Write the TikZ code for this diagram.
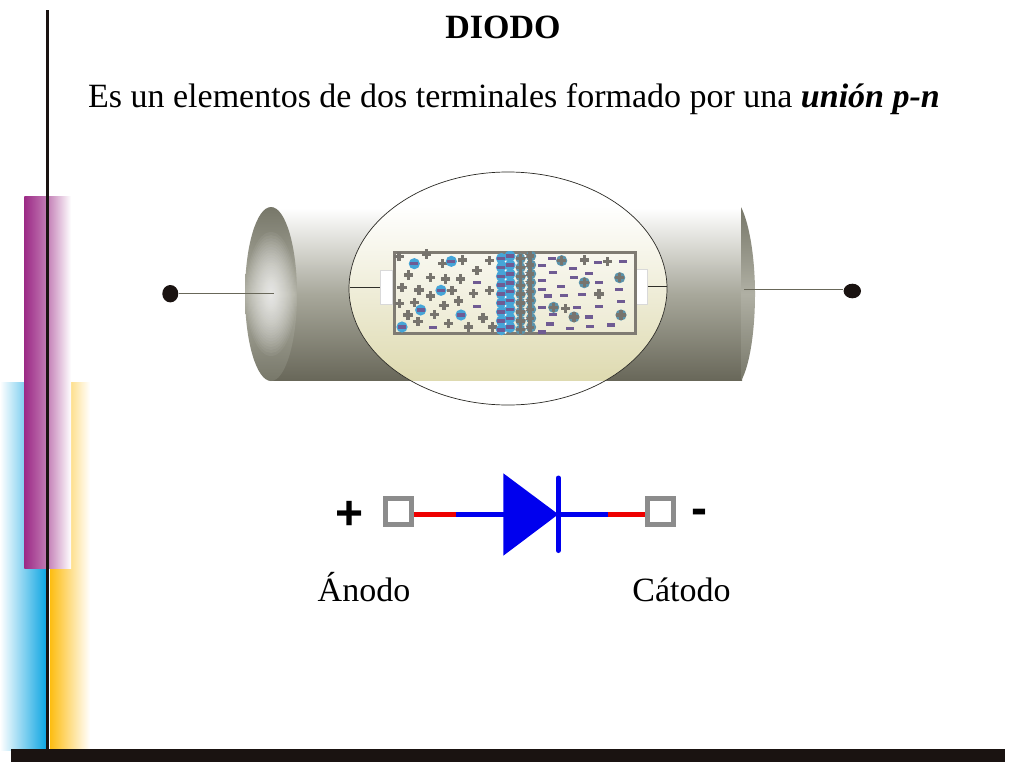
\documentclass[tikz,border=0pt]{standalone}
\usepackage{fontspec}
\setmainfont{Liberation Serif}
\newfontfamily\symfont{Liberation Sans}
\usetikzlibrary{shapes.geometric}
\definecolor{barblack}{HTML}{1A1311}
\definecolor{metald}{HTML}{686759}
\definecolor{metalm}{HTML}{A8A89B}
\definecolor{capd}{HTML}{777769}
\definecolor{capm}{HTML}{B0B0A4}
\definecolor{glass}{HTML}{DEDAB0}
\definecolor{frameg}{HTML}{7F7B73}
\definecolor{plusg}{HTML}{77746E}
\definecolor{minusv}{HTML}{6F5B93}
\definecolor{eblue}{HTML}{45A5D8}
\definecolor{ionteal}{HTML}{5B93AB}
\definecolor{cpurple}{HTML}{9C2A86}
\definecolor{cblue}{HTML}{0FA6E2}
\definecolor{cyellow}{HTML}{FDBD12}
\definecolor{termg}{HTML}{8C8C8C}
\definecolor{wblue}{HTML}{0000EE}
\definecolor{wred}{HTML}{EE0000}
\tikzset{
  txt/.style={font=\fontsize{34}{40}\selectfont,text=black,inner sep=0pt,anchor=base},
  sign/.style={font=\symfont\bfseries\fontsize{48}{48}\selectfont,text=black,inner sep=0pt},
  term/.style={draw=termg,line width=5pt,fill=white,minimum size=26pt,inner sep=0pt,rectangle},
  dot/.style={ellipse,fill=barblack,inner sep=0pt},
  tab/.style={draw=black!15,line width=.5pt,fill=white},
  leadw/.style={draw=black!55!metald,line width=.8pt},
  wireb/.style={wblue,line width=5pt},
  wirer/.style={wred,line width=5pt},
}
\newcommand{\pl}[2]{\fill[plusg] (#1-4.6,#2-1.7) rectangle (#1+4.6,#2+1.7); \fill[plusg] (#1-1.7,#2-4.6) rectangle (#1+1.7,#2+4.6);}
\newcommand{\mi}[2]{\fill[minusv] (#1-4,#2-1.8) rectangle (#1+4,#2+1.8);}
\newcommand{\el}[2]{\fill[eblue] (#1,#2) circle (5.6); \mi{#1}{#2}}
\newcommand{\io}[2]{\fill[ionteal] (#1,#2) circle (5.6); \pl{#1}{#2}}
\begin{document}
\begin{tikzpicture}[x=1pt,y=-1pt]
\useasboundingbox (0,0) rectangle (1024,768);
\fill[white] (0,0) rectangle (1024,768);
% side bands
\shade[left color=white,right color=cblue] (0,382) rectangle (46,750);
\shade[left color=cyellow,right color=white] (50,382) rectangle (90,750);
\shade[left color=cpurple,right color=white,middle color=cpurple!60!white] (24.3,196) rectangle (71,568);
\fill[barblack] (46,10) rectangle (49.3,750);
\fill[barblack] (10.7,749.3) rectangle (1005,761.7);
% title
\node[txt,font=\bfseries\fontsize{34}{40}\selectfont] (title) at (503,39) {DIODO};
\node[txt] (sub) at (514,107) {Es un elementos de dos terminales formado por una \textbf{\textit{unión p-n}}};
% cylinder
\shade[top color=white,bottom color=metald,middle color=metalm] (271,208) rectangle (742,380.5);
\shade[top color=capd,bottom color=capd,middle color=capm] (741,207) .. controls (750,225) and (755,260) .. (755,294) .. controls (755,330) and (750,365) .. (741,381) -- cycle;
\shade[top color=capd,bottom color=capd,middle color=capm] (271,294) ellipse (26 and 87);
\begin{scope}
\clip (271,294) ellipse (26 and 87);
\foreach \i in {1,...,30}{
  \pgfmathsetmacro\gr{(\i/30)^1.5}
  \fill[white,opacity=.055] (271,294) ellipse ({\gr*25} and {\gr*62});
}
\end{scope}
% window
\fill[white] (508,288.5) ellipse (159 and 116.5);
\begin{scope}
\clip (508,288.5) ellipse (159 and 116.5);
\shade[top color=white,bottom color=glass] (340,205) rectangle (680,380.5);
\end{scope}
\draw[black!60!metald,line width=.7pt] (508,288.5) ellipse (159 and 116.5);
% leads
\coordinate (wl) at (349.5,287);
\coordinate (wr) at (667,286.5);
\node[tab,minimum width=11.6pt,minimum height=34pt,inner sep=0pt] (tl) at (386.5,287.3) {};
\node[tab,minimum width=12pt,minimum height=34.6pt,inner sep=0pt] (tr) at (641.7,287) {};
\draw[leadw] (wl) -- (tl.west|-wl);
\draw[leadw] (tr.east|-wr) -- (wr);
\node[dot,minimum width=16pt,minimum height=17.4pt] (dl) at (170.3,293.7) {};
\node[dot,minimum width=17.4pt,minimum height=14.6pt] (dr) at (852.3,291) {};
\coordinate (cl) at (274,293.5);
\coordinate (cr) at (744,289);
\draw[metald,line width=.9pt] (dl.east|-cl) -- (cl);
\draw[metald,line width=.9pt] (cr) -- (dr.west|-cr);
% crystal
\fill[white,opacity=.25] (392.7,251) rectangle (636.7,335);
\draw[frameg,line width=3pt] (394,252.3) rectangle (635.5,333.7);
% charges
\foreach \a/\b in {57/50,140/42,187/70,248/60,328/62,85/105,151/113,197/117,242/117,291/92,66/143,117/150,151/168,216/152,280/160,328/152,236/183,58/190,103/188,192/196,84/225,163/224,114/245,205/250,309/234,266/261,337/261,613/60,683/65,657/162,556/205}{\pgfmathsetmacro\xx{380+\a/3}\pgfmathsetmacro\yy{240+\b/3}\pl{\xx}{\yy}}
\foreach \a/\b in {103/71,214/64,183/151,122/210,243/225,66/261}{\pgfmathsetmacro\xx{380+\a/3}\pgfmathsetmacro\yy{240+\b/3}\el{\xx}{\yy}}
\foreach \a/\b in {291/128,291/200,160/263,516/56,486/76,580/85,655/67,729/64,519/98,627/100,581/112,487/121,658/128,487/149,543/139,716/149,505/168,552/167,605/164,722/184,486/203,590/203,656/200,519/223,627/231,510/252,693/255,629/260,571/266,487/276}{\pgfmathsetmacro\xx{380+\a/3}\pgfmathsetmacro\yy{240+\b/3}\mi{\xx}{\yy}}
\foreach \a/\b in {545/62,613/128,719/113,521/202,582/231,723/225}{\pgfmathsetmacro\xx{380+\a/3}\pgfmathsetmacro\yy{240+\b/3}\io{\xx}{\yy}}
% depletion
\begin{scope}
\clip (392.7,251) rectangle (636.7,336);
\foreach \r in {0,...,8}{
  \pgfmathsetmacro\ya{258.5+\r*8.9}
  \pgfmathsetmacro\yb{256+\r*8.9}
  \fill[eblue] (501.5,\ya) circle (5.6);
  \fill[eblue] (510,\yb) circle (5.6);
  \fill[ionteal] (520.6,\ya) circle (5.2);
  \fill[ionteal] (531,\yb) circle (5.2);
}
\foreach \r in {0,...,8}{
  \pgfmathsetmacro\ya{258.5+\r*8.9}
  \pgfmathsetmacro\yb{256+\r*8.9}
  \pl{520.6}{\ya}
  \pl{529.8}{\yb}
  \mi{500.7}{\ya}
  \mi{510.3}{\yb}
}
\foreach \r in {0,...,8}{
  \pgfmathsetmacro\yc{261.5+\r*8.9}
  \pgfmathsetmacro\yd{256+\r*8.9}
  \fill[white] (505.6,\yc) circle (1.1);
  \fill[white] (525.4,\yd) circle (1.2);
}
\end{scope}
% symbol
\node[sign] (plus) at (349.5,515.5) {+};
\node[sign] (minus) at (699.5,517) {-};
\node[term] (ta) at (398.8,511.7) {};
\node[term] (tc) at (660.3,511.7) {};
\coordinate (m1) at (456,514.3);
\coordinate (tri) at (503.5,514.3);
\coordinate (tip) at (558.3,514.3);
\coordinate (m2) at (608,514.3);
\draw[wirer] (ta.east|-m1) -- (m1);
\draw[wireb] (m1) -- (tri);
\fill[wblue] (503.3,473.3) -- (tip) -- (503.3,555.7) -- cycle;
\draw[wblue,line width=5pt,line cap=round] (558.3,478) -- (558.3,550.5);
\draw[wireb] (tip) -- (m2);
\draw[wirer] (m2) -- (tc.west|-m2);
\node[txt] (an) at (364,601) {Ánodo};
\node[txt] (ca) at (681.5,601) {Cátodo};
\end{tikzpicture}
\end{document}
